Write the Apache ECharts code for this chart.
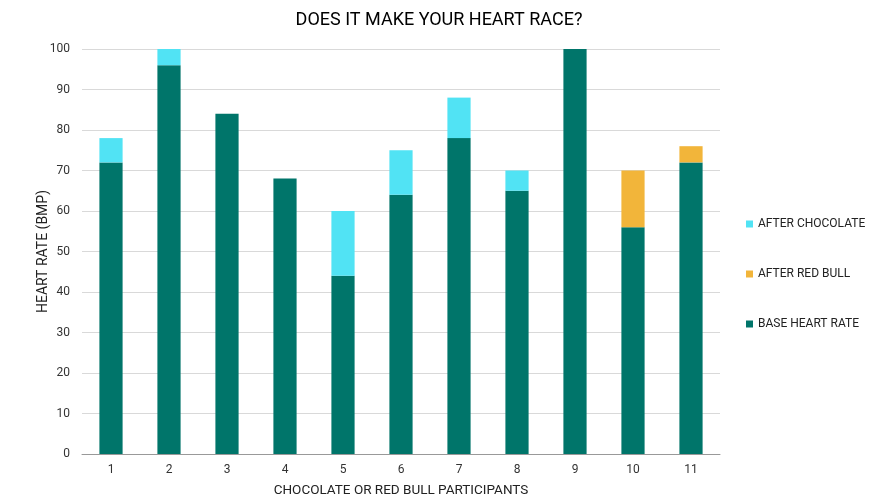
<!DOCTYPE html>
<html><head><meta charset="utf-8">
<script src="https://cdn.jsdelivr.net/npm/echarts@6/dist/echarts.min.js"></script>
<style>html,body{margin:0;padding:0;background:#fff}#c{width:878px;height:499px}</style>
</head><body><div id="c"></div>
<script>
const categories = ['1','2','3','4','5','6','7','8','9','10','11'];
const baseHeartRate = [72, 96, 84, 68, 44, 64, 78, 65, 100, 56, 72];
const afterChocolate = [6, 4, null, null, 16, 11, 10, 5, null, null, null];
const afterRedBull = [null, null, null, null, null, null, null, null, null, 14, 4];

const chart = echarts.init(document.getElementById('c'));
chart.setOption({
  animation: false,
  textStyle: { fontFamily: 'Roboto' },
  title: { text: 'DOES IT MAKE YOUR HEART RACE?', left: 'center', top: 6,
    textStyle: { fontFamily: 'Roboto', fontSize: 18, fontWeight: 'normal', color: '#000' } },
  legend: {
    orient: 'vertical', left: 741, top: 213, itemGap: 38,
    itemWidth: 7, itemHeight: 7, icon: 'rect',
    data: ['AFTER CHOCOLATE', 'AFTER RED BULL', 'BASE HEART RATE'],
    textStyle: { fontFamily: 'Roboto', fontSize: 12, color: '#222' }
  },
  grid: { left: 82, right: 158, top: 49, bottom: 45, containLabel: false, outerBoundsMode: 'none' },
  xAxis: {
    type: 'category', data: categories,
    name: 'CHOCOLATE OR RED BULL PARTICIPANTS', nameLocation: 'middle', nameGap: 30, nameMoveOverlap: false,
    nameTextStyle: { fontFamily: 'Roboto', fontSize: 13.5, color: '#222' },
    axisLine: { show: true, lineStyle: { color: '#999' } },
    axisTick: { show: false },
    axisLabel: { color: '#333', fontSize: 12, margin: 10 }
  },
  yAxis: {
    type: 'value', min: 0, max: 100, interval: 10,
    name: 'HEART RATE (BMP)', nameLocation: 'middle', nameGap: 32, nameMoveOverlap: false,
    nameTextStyle: { fontFamily: 'Roboto', fontSize: 14, color: '#222' },
    axisLine: { show: false }, axisTick: { show: false },
    axisLabel: { color: '#333', fontSize: 12, margin: 12 },
    splitLine: { lineStyle: { color: '#d9d9d9' } }
  },
  series: [
    { name: 'BASE HEART RATE', type: 'bar', stack: 's', data: baseHeartRate, barWidth: '40%', itemStyle: { color: '#00756A' } },
    { name: 'AFTER CHOCOLATE', type: 'bar', stack: 's', data: afterChocolate, itemStyle: { color: '#51E3F4' } },
    { name: 'AFTER RED BULL', type: 'bar', stack: 's', data: afterRedBull, itemStyle: { color: '#F2B53A' } }
  ]
});
</script></body></html>
